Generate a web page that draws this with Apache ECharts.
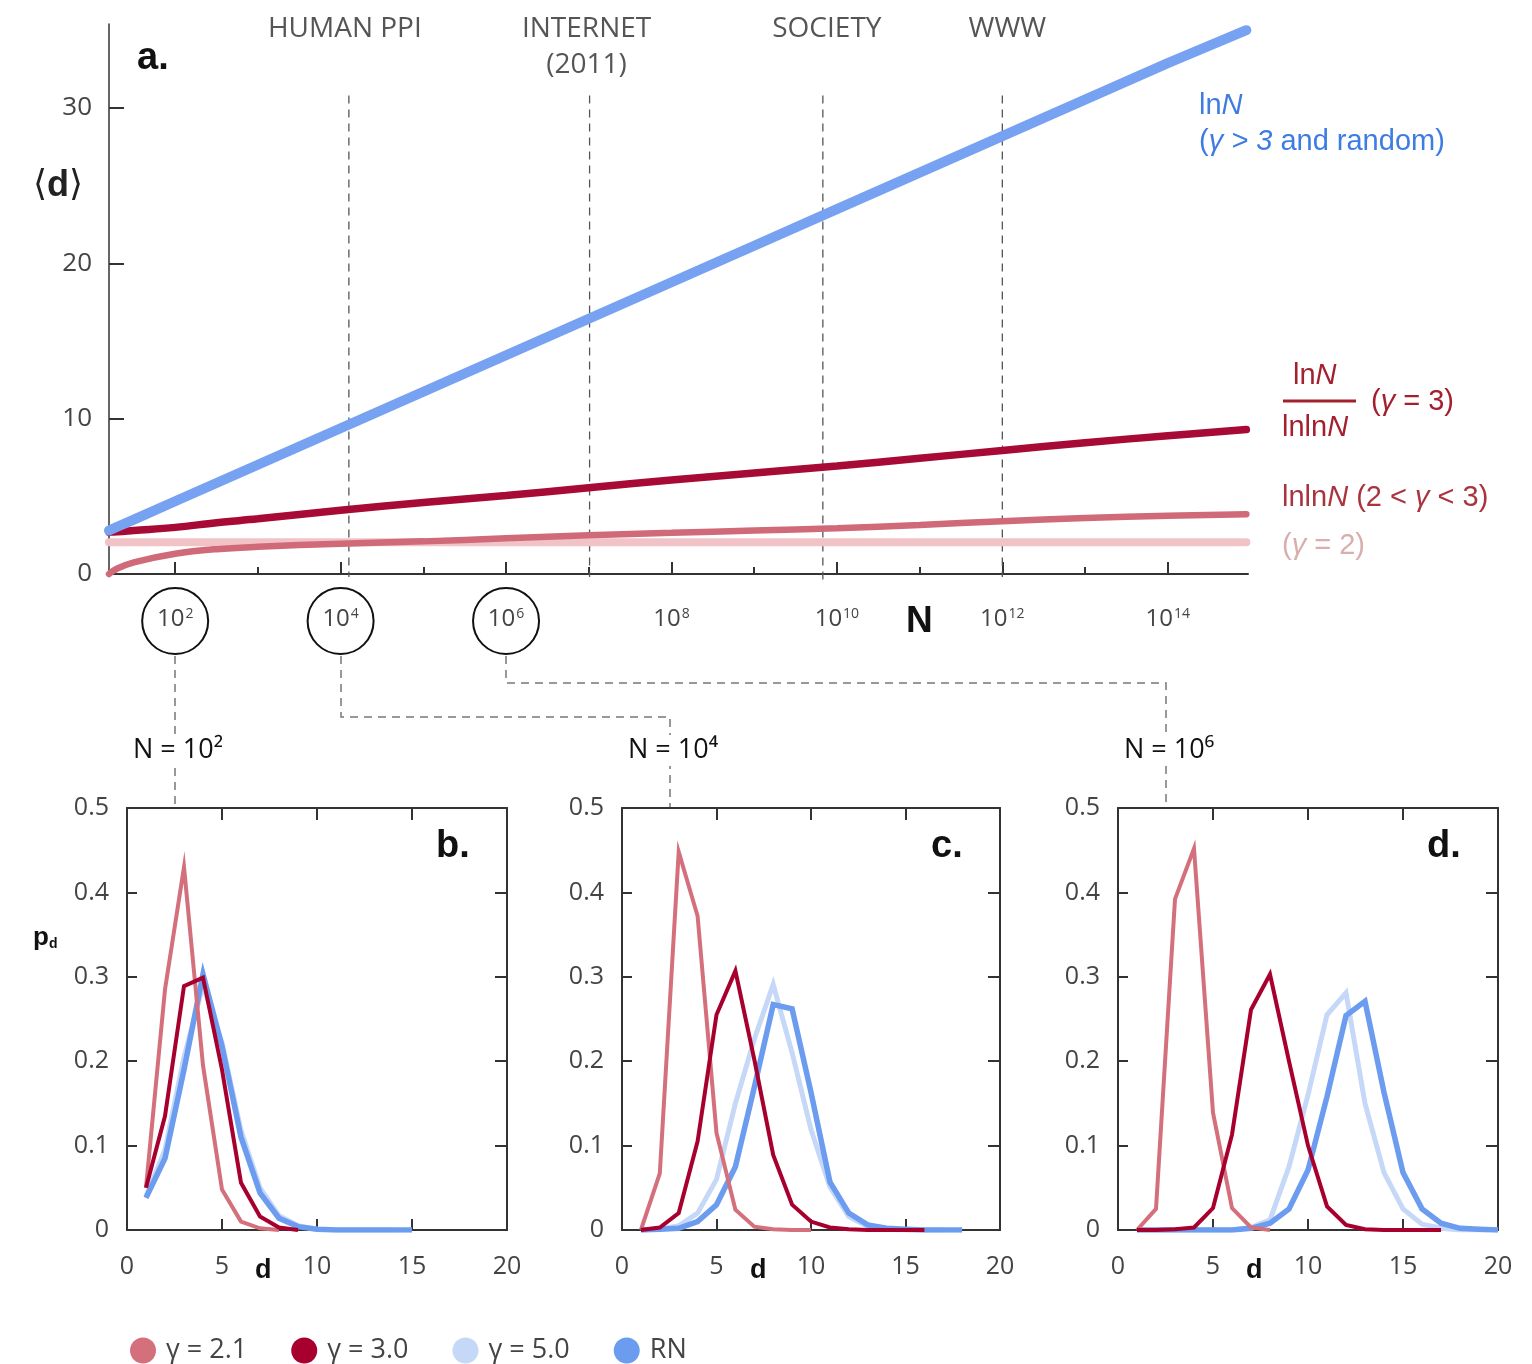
<!DOCTYPE html>
<html><head><meta charset="utf-8">
<script src="https://cdn.jsdelivr.net/npm/echarts@6/dist/echarts.min.js"></script>
<style>html,body{margin:0;padding:0;background:#fff}#c{width:1532px;height:1364px}</style>
</head><body><div id="c"></div>
<script>
// ---------- Panel a : <d> versus N (x = log10 N) ----------
const aLogN        = [1.2, 1.3, 1.5, 2, 2.5, 3, 4, 5, 6, 7, 8, 9, 10, 11, 12, 13, 14, 14.95];
const aRandom      = [2.8, 3.04, 3.5, 4.68, 5.86, 7.03, 9.38, 11.73, 14.08, 16.43, 18.78, 21.13, 23.48, 25.83, 28.18, 30.53, 32.88, 35.0];
const aGamma3      = [2.7, 2.72, 2.8, 3.0, 3.3, 3.55, 4.1, 4.6, 5.05, 5.55, 6.05, 6.5, 6.95, 7.45, 7.95, 8.45, 8.9, 9.3];
const aGamma2to3   = [0.0, 0.35, 0.75, 1.3, 1.6, 1.75, 1.95, 2.1, 2.3, 2.5, 2.65, 2.8, 2.95, 3.15, 3.4, 3.6, 3.75, 3.85];
const aGamma2      = [2.05, 2.05, 2.05, 2.05, 2.05, 2.05, 2.05, 2.05, 2.05, 2.05, 2.05, 2.05, 2.05, 2.05, 2.05, 2.05, 2.05, 2.05];
const markerLogN   = [4.1, 7.01, 9.83, 12.0];
const markerNames  = ['HUMAN PPI', 'INTERNET', 'SOCIETY', 'WWW'];
const majorDecades = [2, 4, 6, 8, 10, 12, 14];
const minorDecades = [3, 5, 7, 9, 11, 13];
const circledDecades = [2, 4, 6];
const aYTicks      = [0, 10, 20, 30];

// ---------- Panels b, c, d : p_d versus d ----------
const panelNames = ['N = 10²', 'N = 10⁴', 'N = 10⁶'];
const panelLetters = ['b.', 'c.', 'd.'];
const seriesNames = ['γ = 2.1', 'γ = 3.0', 'γ = 5.0', 'RN'];
// d starts at 1 for every series
const b21 = [0.05, 0.285, 0.43, 0.195, 0.048, 0.01, 0.002, 0];
const b30 = [0.05, 0.135, 0.289, 0.299, 0.19, 0.056, 0.016, 0.003, 0];
const b50 = [0.04, 0.095, 0.205, 0.29, 0.222, 0.118, 0.05, 0.017, 0.005, 0.001, 0, 0, 0, 0];
const bRN = [0.038, 0.085, 0.19, 0.303, 0.218, 0.11, 0.044, 0.014, 0.004, 0.001, 0, 0, 0, 0, 0];

const c21 = [0, 0.067, 0.448, 0.372, 0.115, 0.024, 0.004, 0.001, 0, 0];
const c30 = [0, 0.003, 0.02, 0.105, 0.255, 0.307, 0.202, 0.089, 0.03, 0.01, 0.003, 0.001, 0, 0, 0, 0];
const c50 = [0, 0.001, 0.005, 0.02, 0.06, 0.15, 0.226, 0.291, 0.21, 0.119, 0.051, 0.016, 0.004, 0.001, 0, 0, 0];
const cRN = [0, 0.001, 0.002, 0.01, 0.03, 0.075, 0.169, 0.267, 0.262, 0.163, 0.057, 0.02, 0.006, 0.002, 0.001, 0, 0, 0];

const d21 = [0, 0.025, 0.392, 0.452, 0.139, 0.026, 0.003, 0];
const d30 = [0, 0, 0.001, 0.003, 0.026, 0.113, 0.261, 0.303, 0.2, 0.1, 0.028, 0.006, 0.001, 0, 0, 0, 0];
const d50 = [0, 0, 0, 0, 0, 0, 0.003, 0.012, 0.075, 0.16, 0.255, 0.281, 0.15, 0.068, 0.025, 0.007, 0.002, 0, 0, 0];
const dRN = [0, 0, 0, 0, 0, 0, 0.002, 0.008, 0.025, 0.071, 0.158, 0.254, 0.271, 0.163, 0.068, 0.025, 0.008, 0.002, 0.001, 0];

const panelData = [[b21, b30, b50, bRN], [c21, c30, c50, cRN], [d21, d30, d50, dRN]];

// ---------- styles ----------
const FONT = 'Open Sans';
const C21 = '#d4707c', C30 = '#a8002e', C50 = '#c6d8f7', CRN = '#6b9cef';
const CPINK = '#f2c3c6';
const seriesColors = [C21, C30, C50, CRN];
const seriesWidths = [4, 4, 5, 5.5];
const drawOrder = [2, 3, 0, 1];

const pairs = (xs, ys) => xs.map((x, i) => [x, ys[i]]);
const dPairs = ys => ys.map((y, i) => [i + 1, y]);

const panelGrids = [
  {left: 127, top: 808, width: 380, height: 422},
  {left: 622, top: 808, width: 378, height: 422},
  {left: 1118, top: 808, width: 380, height: 422}
];

const axisLineStyle = {color: '#333', width: 2};
const tickLab = {color: '#444', fontFamily: FONT, fontWeight: 400};

const xAxes = [
  {gridIndex: 0, type: 'value', min: 1.2, max: 14.97, position: 'bottom',
   axisLine: {onZero: false, lineStyle: axisLineStyle},
   axisTick: {inside: true, length: 12, customValues: majorDecades, lineStyle: {color: '#333', width: 2}},
   axisLabel: {customValues: majorDecades, margin: 33,
     formatter: v => '{b|10}{s|' + v + '}',
     rich: {b: Object.assign({fontSize: 24}, tickLab),
            s: Object.assign({fontSize: 14, verticalAlign: 'top', padding: [0, 0, 0, 1]}, tickLab)}},
   splitLine: {show: false}},
  {gridIndex: 0, type: 'value', min: 1.2, max: 14.97, position: 'bottom', offset: 0,
   axisLine: {show: false, onZero: false},
   axisTick: {inside: true, length: 7, customValues: minorDecades, lineStyle: {color: '#333', width: 2}},
   axisLabel: {show: false}, splitLine: {show: false}}
];
const yAxes = [
  {gridIndex: 0, type: 'value', min: 0, max: 35.4,
   axisLine: {show: true, onZero: false, lineStyle: {color: '#333', width: 1.5}},
   axisTick: {show: true, inside: true, length: 15, customValues: [10, 20, 30], lineStyle: {color: '#333', width: 2}},
   axisLabel: Object.assign({customValues: aYTicks, fontSize: 26, margin: 17}, tickLab),
   splitLine: {show: false}}
];

panelGrids.forEach((g, i) => {
  const gi = i + 1;
  xAxes.push({gridIndex: gi, type: 'value', min: 0, max: 20, interval: 5, position: 'bottom',
    axisLine: {onZero: false, lineStyle: axisLineStyle},
    axisTick: {inside: true, length: 11, lineStyle: {color: '#333', width: 2}},
    axisLabel: Object.assign({fontSize: 25, margin: 24}, tickLab),
    splitLine: {show: false}});
  xAxes.push({gridIndex: gi, type: 'value', min: 0, max: 20, interval: 5, position: 'top',
    axisLine: {onZero: false, lineStyle: axisLineStyle},
    axisTick: {inside: true, length: 12, lineStyle: {color: '#333', width: 2}},
    axisLabel: {show: false}, splitLine: {show: false}});
  yAxes.push({gridIndex: gi, type: 'value', min: 0, max: 0.5, interval: 0.1, position: 'left',
    axisLine: {show: true, onZero: false, lineStyle: axisLineStyle},
    axisTick: {show: true, inside: true, length: 10, lineStyle: {color: '#333', width: 2}},
    axisLabel: Object.assign({fontSize: 25, margin: 18, formatter: v => v === 0 ? '0' : v.toFixed(1)}, tickLab),
    splitLine: {show: false}});
  yAxes.push({gridIndex: gi, type: 'value', min: 0, max: 0.5, interval: 0.1, position: 'right',
    axisLine: {show: true, onZero: false, lineStyle: axisLineStyle},
    axisTick: {show: true, inside: true, length: 12, lineStyle: {color: '#333', width: 2}},
    axisLabel: {show: false}, splitLine: {show: false}});
});

const series = [];
// panel a
const aLine = (name, ys, color, width, smooth) => ({
  type: 'line', name, xAxisIndex: 0, yAxisIndex: 0, data: pairs(aLogN, ys), symbol: 'none',
  smooth: smooth ? 0.4 : false, lineStyle: {color, width, cap: 'round'}, itemStyle: {color}, z: 3, clip: false
});
series.push(aLine('a γ=2', aGamma2, CPINK, 8, false));
series.push(aLine('a 2<γ<3', aGamma2to3, '#d06a79', 6.5, true));
series.push(aLine('a γ=3', aGamma3, '#a60a35', 7.5, true));
series.push(aLine('a random', aRandom, '#77a2f1', 10, false));

// dashed marker lines + names
markerLogN.forEach((x, i) => {
  series.push({type: 'line', name: 'marker' + i, xAxisIndex: 0, yAxisIndex: 0, symbol: 'none', clip: false,
    data: [[x, 30.8], [x, i === 2 ? -0.4 : -0.2]],
    lineStyle: {color: '#555', width: 1.3, type: [8, 6]}, z: 2, silent: true});
});
const nameOffsets = [-4, -3, 4, 5];
series.push({type: 'scatter', name: 'markerNames', xAxisIndex: 0, yAxisIndex: 0, symbolSize: 0, clip: false,
  data: markerLogN.map((x, i) => ({value: [x, 35.1], name: markerNames[i], label: {offset: [nameOffsets[i], 0]}}))
        .concat([{value: [markerLogN[1], 32.75], name: '(2011)', label: {offset: [-3, 0]}}]),
  label: {show: true, position: 'inside', formatter: p => p.name, fontSize: 28, color: '#2a2a2a', fontFamily: FONT, fontWeight: 400},
  silent: true});

// panels
panelData.forEach((arrs, pi) => {
  drawOrder.forEach(k => {
    series.push({type: 'line', name: seriesNames[k], xAxisIndex: 2 + pi * 2, yAxisIndex: 1 + pi * 2,
      data: dPairs(arrs[k]), symbol: 'none', color: seriesColors[k],
      lineStyle: {color: seriesColors[k], width: seriesWidths[k], join: 'miter'}, itemStyle: {color: seriesColors[k]}});
  });
});

const graphics = [];
const txt = (x, y, text, style) => graphics.push({type: 'text', x, y, style: Object.assign({text, fontFamily: FONT, fill: '#333'}, style)});

txt(137, 40, 'a.', {fontSize: 38, fontWeight: 'bold', fill: '#111', fontFamily: 'Liberation Sans'});
txt(33, 168, '⟨{d|d}⟩', {fontSize: 36, fill: '#222', fontFamily: 'DejaVu Sans',
  rich: {d: {fontSize: 36, fontWeight: 'bold', fill: '#222', fontFamily: 'Liberation Sans'}}});
txt(906, 603, 'N', {fontSize: 37, fontWeight: 'bold', fill: '#111', fontFamily: 'Liberation Sans'});

// right side annotations
const BLUE_T = '#3d7ce2', RED_T = '#a3202f', MID_T = '#a9343e', PINK_T = '#d8aeae';
const rr = (fill, size) => ({
  r: {fontSize: size, fill, fontFamily: 'Liberation Sans'},
  i: {fontSize: size, fill, fontFamily: 'Liberation Sans', fontStyle: 'italic'}
});
txt(1199, 91, '{r|ln}{i|N}', {rich: rr(BLUE_T, 29)});
txt(1199, 127, '{r|(}{i|γ > 3}{r| and random)}', {rich: rr(BLUE_T, 29)});
txt(1293, 361, '{r|ln}{i|N}', {rich: rr(RED_T, 29)});
graphics.push({type: 'line', shape: {x1: 1283, y1: 401, x2: 1356, y2: 401}, style: {stroke: RED_T, lineWidth: 3}});
txt(1282, 413, '{r|lnln}{i|N}', {rich: rr(RED_T, 29)});
txt(1371, 387, '{r|(}{i|γ}{r| = 3)}', {rich: rr(RED_T, 29)});
txt(1282, 483, '{r|lnln}{i|N}{r| (2 < }{i|γ}{r| < 3)}', {rich: rr(MID_T, 29)});
txt(1282, 531, '{r|(}{i|γ}{r| = 2)}', {rich: rr(PINK_T, 29)});

// panel titles / letters / axis names
const panelLeft = [127, 622, 1118];
panelLeft.forEach((L, i) => {
  txt(L + 6, 735, panelNames[i], {fontSize: 27, fill: '#111', fontWeight: 400, backgroundColor: '#fff', padding: [2, 0, 2, 0]});
  txt(L + 309, 828, panelLetters[i], {fontSize: 38, fontWeight: 'bold', fill: '#111', fontFamily: 'Liberation Sans'});
  txt(L + 128, 1257, 'd', {fontSize: 27, fontWeight: 'bold', fill: '#111', fontFamily: 'Liberation Sans'});
});
txt(33, 925, '{p|p}{s|d}', {rich: {p: {fontSize: 26, fontWeight: 'bold', fill: '#111', fontFamily: 'Liberation Sans'},
  s: {fontSize: 14, fontWeight: 'bold', fill: '#111', fontFamily: 'Liberation Sans', verticalAlign: 'bottom', padding: [8, 0, 0, 0]}}});

// dashed connectors from circled ticks to panels
const dash = pts => graphics.push({type: 'polyline', shape: {points: pts}, style: {stroke: '#777', lineWidth: 1.5, lineDash: [8, 6], fill: null}, z: -1});
dash([[175, 656], [175, 808]]);
dash([[341, 656], [341, 717], [670, 717], [670, 808]]);
dash([[506, 656], [506, 683], [1166, 683], [1166, 808]]);

const option = {
  animation: false,
  backgroundColor: '#fff',
  textStyle: {fontFamily: FONT},
  grid: [{left: 109, top: 24, width: 1139, height: 550}].concat(panelGrids),
  xAxis: xAxes,
  yAxis: yAxes,
  legend: {data: seriesNames, left: 125, top: 1332, icon: 'circle', itemWidth: 28, itemHeight: 26, itemGap: 44,
    textStyle: {fontSize: 27, color: '#444', fontFamily: FONT, fontWeight: 400, padding: [0, 0, 0, 4]}},
  series,
  graphic: graphics
};

const chart = echarts.init(document.getElementById('c'), null, {renderer: 'canvas'});
chart.setOption(option);

// circles around the first three decade labels, placed through the axis scale
const circles = circledDecades.map(k => {
  const p = chart.convertToPixel({xAxisIndex: 0, yAxisIndex: 0}, [k, 0]);
  return {type: 'circle', shape: {cx: p[0], cy: p[1] + 47, r: 33}, style: {stroke: '#111', lineWidth: 2, fill: null}, z: 10};
});
chart.setOption({graphic: graphics.concat(circles)});
</script>
</body></html>
